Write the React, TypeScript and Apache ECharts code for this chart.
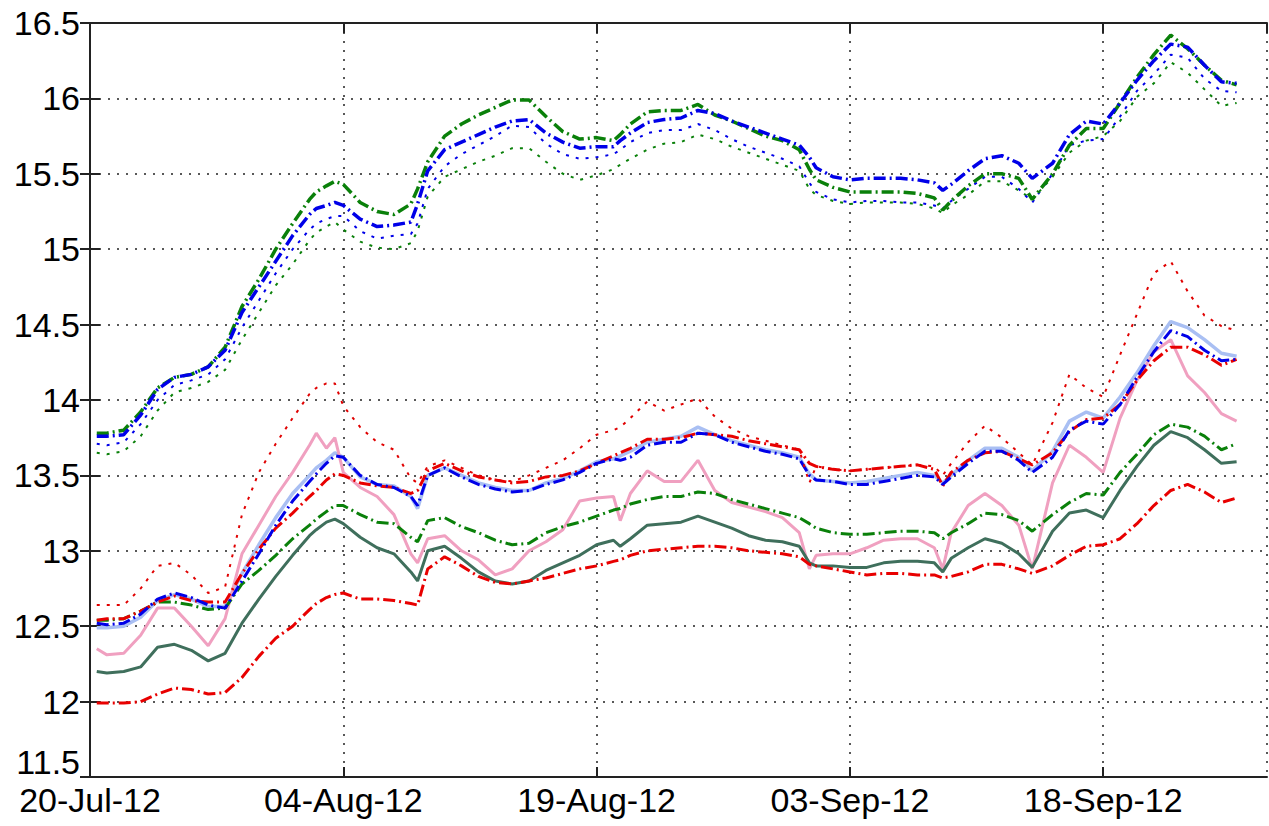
import React, { useEffect, useRef } from "react";
import * as echarts from "echarts";

// x positions in days after 20-Jul-2012
const days = [0.4,1,2,3,4,5,6,7,8,9,10,11,12,13,13.4,14,14.5,15,16,17,18,19,19.4,20,21,22,23,24,25,26,27,28,29,30,31,31.4,32,33,34,35,36,37,38,39,40,41,42,42.6,43,44,45,46,47,48,49,50,50.5,51,52,53,54,55,55.8,57,58,59,60,61,62,63,64,65,66,67,67.9];

const xTickLabels = ["20-Jul-12", "04-Aug-12", "19-Aug-12", "03-Sep-12", "18-Sep-12"];
const yTicks = [11.5, 12, 12.5, 13, 13.5, 14, 14.5, 15, 15.5, 16, 16.5];
const Y_MIN = 11.5;
const Y_MAX = 16.5;

const upperGreenDashDot = [
  13.78,13.78,13.80,13.92,14.08,14.15,14.17,14.22,14.35,14.62,
  14.80,15.00,15.17,15.33,15.38,15.42,15.45,15.43,15.31,15.25,
  15.23,15.30,15.40,15.58,15.75,15.83,15.89,15.94,15.99,15.99,
  15.88,15.78,15.73,15.74,15.72,15.76,15.83,15.91,15.92,15.92,
  15.96,15.89,15.85,15.80,15.75,15.72,15.66,15.53,15.46,15.41,
  15.38,15.38,15.38,15.38,15.37,15.34,15.26,15.32,15.42,15.50,
  15.50,15.47,15.33,15.50,15.69,15.80,15.80,15.97,16.14,16.29,
  16.42,16.33,16.22,16.12,16.09];
const upperBlueDashDot = [
  13.76,13.76,13.77,13.90,14.07,14.15,14.17,14.22,14.33,14.58,
  14.75,14.92,15.09,15.23,15.27,15.29,15.31,15.29,15.20,15.15,
  15.16,15.18,15.30,15.52,15.66,15.71,15.76,15.81,15.85,15.86,
  15.77,15.71,15.67,15.68,15.68,15.72,15.77,15.84,15.86,15.87,
  15.92,15.90,15.85,15.81,15.77,15.73,15.69,15.61,15.54,15.48,
  15.46,15.47,15.47,15.47,15.46,15.44,15.39,15.43,15.52,15.60,
  15.62,15.57,15.47,15.57,15.76,15.85,15.83,15.97,16.12,16.25,
  16.36,16.34,16.22,16.11,16.10];
const upperBlueDotted = [
  13.71,13.70,13.72,13.84,14.00,14.10,14.13,14.17,14.27,14.48,
  14.66,14.84,15.00,15.13,15.17,15.20,15.22,15.22,15.12,15.07,
  15.09,15.10,15.17,15.40,15.55,15.63,15.69,15.75,15.82,15.81,
  15.70,15.63,15.60,15.61,15.63,15.66,15.71,15.77,15.79,15.79,
  15.83,15.79,15.73,15.68,15.64,15.60,15.55,15.44,15.38,15.33,
  15.31,15.32,15.32,15.31,15.31,15.29,15.27,15.32,15.40,15.48,
  15.48,15.40,15.31,15.50,15.69,15.72,15.73,15.88,16.05,16.16,
  16.29,16.27,16.13,16.05,16.04];
const upperGreenDotted = [
  13.65,13.64,13.66,13.76,13.93,14.05,14.08,14.12,14.20,14.40,
  14.58,14.76,14.90,15.06,15.11,15.15,15.18,15.13,15.05,15.01,
  15.00,15.04,15.12,15.35,15.48,15.53,15.58,15.62,15.67,15.67,
  15.58,15.50,15.46,15.49,15.53,15.56,15.60,15.66,15.70,15.71,
  15.76,15.73,15.68,15.64,15.60,15.56,15.52,15.40,15.36,15.32,
  15.30,15.31,15.31,15.31,15.30,15.27,15.24,15.29,15.36,15.45,
  15.45,15.39,15.33,15.48,15.64,15.72,15.75,15.85,16.01,16.10,
  16.24,16.17,16.06,15.95,15.97];
const redDotted = [
  12.64,12.64,12.64,12.75,12.90,12.92,12.84,12.72,12.76,13.24,
  13.52,13.71,13.88,14.04,14.08,14.11,14.11,13.96,13.82,13.72,
  13.67,13.48,13.45,13.56,13.60,13.55,13.50,13.47,13.46,13.50,
  13.55,13.60,13.68,13.77,13.80,13.82,13.88,13.99,13.93,13.97,
  14.01,13.89,13.81,13.76,13.73,13.70,13.67,13.45,13.56,13.54,
  13.53,13.54,13.55,13.56,13.57,13.56,13.50,13.58,13.72,13.83,
  13.75,13.65,13.57,13.85,14.17,14.08,14.02,14.30,14.57,14.84,
  14.92,14.72,14.56,14.49,14.46];
const lightBlueSolid = [
  12.49,12.49,12.50,12.56,12.67,12.71,12.68,12.63,12.63,12.85,
  13.04,13.22,13.38,13.50,13.55,13.60,13.65,13.62,13.49,13.44,
  13.43,13.36,13.28,13.50,13.55,13.50,13.45,13.42,13.40,13.40,
  13.45,13.48,13.53,13.59,13.61,13.63,13.66,13.72,13.74,13.76,
  13.82,13.77,13.73,13.70,13.67,13.65,13.62,13.51,13.47,13.46,
  13.45,13.46,13.48,13.50,13.52,13.50,13.45,13.50,13.60,13.68,
  13.68,13.62,13.53,13.66,13.86,13.92,13.88,14.02,14.18,14.36,
  14.52,14.48,14.40,14.31,14.29];
const blueDashDot = [
  12.52,12.51,12.52,12.58,12.68,12.72,12.69,12.64,12.62,12.80,
  12.98,13.17,13.33,13.46,13.51,13.58,13.63,13.62,13.50,13.44,
  13.42,13.36,13.30,13.50,13.55,13.49,13.44,13.41,13.39,13.40,
  13.44,13.47,13.52,13.58,13.61,13.60,13.62,13.70,13.72,13.72,
  13.78,13.77,13.72,13.69,13.66,13.64,13.61,13.50,13.47,13.46,
  13.44,13.44,13.46,13.48,13.50,13.49,13.44,13.49,13.58,13.66,
  13.66,13.60,13.52,13.62,13.80,13.86,13.84,13.97,14.15,14.32,
  14.46,14.42,14.33,14.26,14.27];
const redDashDotUpper = [
  12.54,12.55,12.55,12.60,12.66,12.70,12.67,12.66,12.66,12.85,
  13.01,13.15,13.25,13.36,13.40,13.47,13.51,13.50,13.45,13.43,
  13.42,13.38,13.40,13.53,13.58,13.53,13.49,13.47,13.45,13.46,
  13.49,13.50,13.53,13.58,13.63,13.65,13.68,13.74,13.74,13.75,
  13.78,13.77,13.76,13.73,13.71,13.69,13.67,13.58,13.56,13.54,
  13.53,13.54,13.55,13.56,13.57,13.54,13.43,13.52,13.60,13.65,
  13.66,13.61,13.57,13.65,13.79,13.87,13.88,13.97,14.13,14.26,
  14.35,14.35,14.30,14.23,14.27];
const pinkSolid = [
  12.35,12.31,12.32,12.44,12.62,12.62,12.50,12.37,12.55,12.98,
  13.17,13.36,13.52,13.70,13.78,13.68,13.75,13.52,13.42,13.36,
  13.24,12.98,12.92,13.08,13.10,13.00,12.94,12.84,12.88,13.00,
  13.06,13.14,13.33,13.35,13.36,13.20,13.38,13.53,13.46,13.46,
  13.60,13.40,13.32,13.29,13.26,13.22,13.12,12.88,12.97,12.98,
  12.98,13.02,13.07,13.08,13.08,13.02,12.88,13.12,13.30,13.38,
  13.30,13.17,12.88,13.45,13.70,13.62,13.52,13.88,14.13,14.32,
  14.40,14.16,14.05,13.91,13.86];
const greenDashDot = [
  12.54,12.54,12.55,12.60,12.66,12.66,12.64,12.61,12.62,12.78,
  12.87,12.97,13.08,13.17,13.21,13.26,13.30,13.30,13.24,13.19,
  13.18,13.09,13.06,13.20,13.22,13.16,13.12,13.07,13.04,13.05,
  13.12,13.16,13.19,13.23,13.27,13.28,13.31,13.34,13.36,13.36,
  13.39,13.38,13.34,13.31,13.28,13.25,13.22,13.18,13.15,13.12,
  13.11,13.11,13.12,13.13,13.13,13.12,13.08,13.12,13.18,13.25,
  13.24,13.20,13.13,13.24,13.32,13.38,13.37,13.52,13.64,13.77,
  13.84,13.82,13.76,13.67,13.71];
const darkGreenSolid = [
  12.20,12.19,12.20,12.23,12.36,12.38,12.34,12.27,12.32,12.52,
  12.68,12.83,12.97,13.10,13.14,13.19,13.21,13.18,13.09,13.02,
  12.98,12.86,12.80,13.00,13.03,12.95,12.86,12.80,12.78,12.80,
  12.87,12.92,12.97,13.04,13.07,13.03,13.08,13.17,13.18,13.19,
  13.23,13.19,13.15,13.10,13.07,13.06,13.03,12.92,12.90,12.90,
  12.89,12.89,12.92,12.93,12.93,12.92,12.86,12.95,13.02,13.08,
  13.05,12.98,12.89,13.13,13.25,13.27,13.22,13.40,13.56,13.70,
  13.79,13.75,13.67,13.58,13.59];
const redDashDotLower = [
  11.99,11.99,11.99,12.00,12.05,12.09,12.08,12.05,12.06,12.16,
  12.30,12.42,12.50,12.61,12.65,12.69,12.71,12.72,12.68,12.68,
  12.67,12.65,12.64,12.88,12.96,12.90,12.83,12.79,12.78,12.80,
  12.82,12.85,12.88,12.90,12.93,12.94,12.97,13.00,13.01,13.02,
  13.03,13.03,13.02,13.00,12.99,12.98,12.96,12.91,12.90,12.88,
  12.86,12.84,12.85,12.85,12.84,12.84,12.82,12.83,12.86,12.91,
  12.91,12.88,12.85,12.90,12.97,13.03,13.04,13.08,13.18,13.30,
  13.40,13.44,13.39,13.32,13.35];

const DASH_DOT = [12, 4, 2, 4];
const DOTTED = [3, 7];
const FONT = "'Liberation Sans', Arial, Helvetica, sans-serif";

const seriesDefs = [
  { name: "lightBlue", data: lightBlueSolid, color: "#a9bff3", type: "solid", width: 3.5 },
  { name: "pink", data: pinkSolid, color: "#f0a0c0", type: "solid", width: 3 },
  { name: "darkGreen", data: darkGreenSolid, color: "#3f6f5c", type: "solid", width: 3 },
  { name: "redLower", data: redDashDotLower, color: "#e80000", type: DASH_DOT, width: 3 },
  { name: "greenMid", data: greenDashDot, color: "#0a800a", type: DASH_DOT, width: 3 },
  { name: "redUpper", data: redDashDotUpper, color: "#e80000", type: DASH_DOT, width: 3 },
  { name: "blueLower", data: blueDashDot, color: "#0000e8", type: DASH_DOT, width: 3 },
  { name: "redDotted", data: redDotted, color: "#e00000", type: DOTTED, width: 2 },
  { name: "upGreenDot", data: upperGreenDotted, color: "#0a800a", type: DOTTED, width: 2 },
  { name: "upBlueDot", data: upperBlueDotted, color: "#0000e8", type: DOTTED, width: 2 },
  { name: "upGreen", data: upperGreenDashDot, color: "#0a800a", type: DASH_DOT, width: 3.5 },
  { name: "upBlue", data: upperBlueDashDot, color: "#0000e8", type: DASH_DOT, width: 3.5 },
];

const X_MAX = 69.7;

export default function App() {
  const ref = useRef<HTMLDivElement>(null);
  useEffect(() => {
    if (!ref.current) return;
    const chart = echarts.init(ref.current, null, { renderer: "svg" });
    const axisLine = { show: true, lineStyle: { color: "#222", width: 2 } };
    const tick = { show: true, inside: true, length: 10, lineStyle: { color: "#222", width: 2 } };
    const grid = { show: true, lineStyle: { color: "#222", width: 1.5, type: [2, 7] } };
    const xFmt = (v: number) => {
      const k = v / 15;
      if (Math.abs(k - Math.round(k)) > 1e-6) return "";
      return xTickLabels[Math.round(k)] ?? "";
    };
    const yFmt = (v: number) => (v !== Y_MIN && yTicks.includes(v) ? String(v) : "");
    chart.setOption({
      animation: false,
      backgroundColor: "#ffffff",
      grid: { left: 90, right: 2, top: 23, bottom: 49, containLabel: false, outerBoundsMode: "none" },
      xAxis: [
        {
          type: "value", min: 0, max: X_MAX, interval: 15, position: "bottom",
          axisLine, axisTick: tick, splitLine: grid,
          axisLabel: { show: true, fontSize: 34, color: "#000", fontFamily: FONT, margin: 6, formatter: xFmt, showMaxLabel: false },
        },
        {
          type: "value", min: 0, max: X_MAX, interval: 15, position: "top",
          axisLine, axisTick: tick, splitLine: { show: false }, axisLabel: { show: false },
        },
      ],
      yAxis: [
        {
          type: "value", min: Y_MIN, max: Y_MAX, interval: 0.5, position: "left",
          axisLine, axisTick: tick, splitLine: grid,
          axisLabel: { show: true, fontSize: 34, color: "#000", fontFamily: FONT, margin: 10, formatter: yFmt, showMinLabel: false },
        },
        {
          type: "value", min: Y_MIN, max: Y_MAX, interval: 0.5, position: "right",
          axisLine, axisTick: tick, splitLine: { show: false }, axisLabel: { show: false },
        },
      ],
      graphic: [
        {
          type: "text",
          x: 80,
          y: 779,
          style: {
            text: String(Y_MIN),
            fill: "#000",
            font: `34px ${FONT}`,
            align: "right",
            verticalAlign: "bottom",
          },
        },
      ],
      series: seriesDefs.map((s) => ({
        name: s.name,
        type: "line",
        xAxisIndex: 0,
        yAxisIndex: 0,
        showSymbol: false,
        symbol: "none",
        data: days.map((d, i) => [d, s.data[i]]),
        lineStyle: { color: s.color, width: s.width, type: s.type as any },
        emphasis: { disabled: true },
      })),
    });
    return () => chart.dispose();
  }, []);
  return (
    <div
      ref={ref}
      style={{ position: "fixed", left: 0, top: 0, width: 1269, height: 826, background: "#fff" }}
    />
  );
}
